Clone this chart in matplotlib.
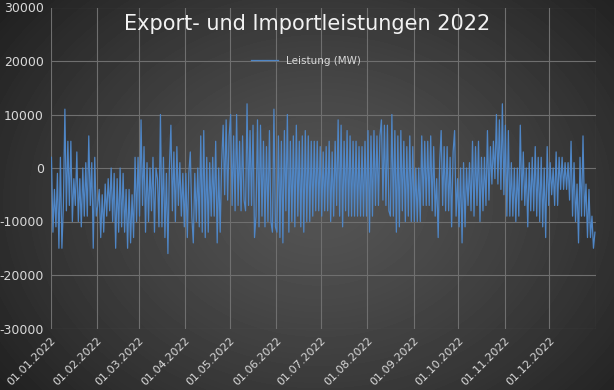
import numpy as np
import matplotlib
matplotlib.use("Agg")
import matplotlib.pyplot as plt

plt.rcParams["axes.unicode_minus"] = False

# daily power flow in 1000 MW, one value per day
jan = [2, -12, -4, -11, -1, -15, 2, -15, -7, 11, -8, 5, -7, 5, -10, -2, -7, 3, -10, -2,
       -11, 0, -9, 1, -9, 6, -7, 1, -15, 2, -9]
feb = [-7, -4, -13, -5, -12, -3, -9, -2, -8, 0, -10, -1, -15, -2, -12, 0, -11, -1, -12, -4,
       -15, -4, -14, -5, -13, 2, -10, 2]
mar = [-9, 9, -7, 4, -12, 1, -10, 0, -8, 2, -12, 0, -2, -11, 10, -11, 2, -13, -1, -16,
       0, 8, -8, 3, -10, 4, -7, 1, -9, -1, -11]
apr = [-1, -13, -1, 3, -9, -14, -1, -10, 0, -11, 6, -12, 7, -13, 2, -12, 1, -9, 2, -9,
       5, -14, 0, -12, 1, 8, -5, 9, -6, 6]
may = [10, -7, 6, -8, 10, -7, 5, -8, 6, -6, -8, 12, -7, 7, -7, 8, -13, -9, 9, -11,
       8, -9, 5, -11, 4, -10, 7, -10, -12, 11, -11]
jun = [-12, 6, -13, 5, -14, 7, -8, 10, -12, 5, -10, 6, -11, 8, -9, 5, -11, 6, -12, 7,
       -10, 6, -10, 5, -9, 5, -8, 5, -8, 4]
jul = [-9, 3, -8, 4, -8, 5, -10, 3, -9, 5, -7, 9, -9, 8, -11, 5, -8, 7, -9, 6,
       -9, 5, -9, 5, -9, 4, -9, 4, -9, 5, -9]
aug = [7, -12, 6, -9, 7, -7, 6, -7, 6, 9, -6, 8, -7, 8, -8, -9, 10, -9, 7, -12,
       6, -11, 7, -8, 5, -10, 4, -9, 6, -10, 4]
sep = [-10, 0, -10, 0, -10, 6, -7, 5, -7, 5, -7, 6, -8, 4, -9, -2, -13, 1, 7, -7,
       4, -8, 4, -8, 2, -11, 3, 7, -9, -2]
oct_ = [-11, 0, -14, 1, -11, 0, -7, 1, -8, 5, -9, 4, -7, 5, -10, 2, -8, 2, -7, 7,
        -6, 4, -3, 5, -2, 10, -3, 9, -4, 12, -5]
nov = [8, -9, 7, -9, 1, -9, 0, -10, 0, -9, 8, -6, 3, -7, 0, -11, 1, -8, 2, -8,
       4, -9, 2, -10, 2, -11, 0, -13, 4, -7]
dec = [1, -5, 0, -7, 3, -7, 2, -4, 2, -4, 1, -4, 1, -6, 5, -9, 1, -10, -3, -14,
       2, -9, 6, -9, -3, -13, -4, -13, -9, -15, -12]

month_ticks = ["2022-%02d-01" % m for m in range(1, 13)]
series_label = "Leistung (MW)"
title = "Export- und Importleistungen 2022"

vals = np.array(jan + feb + mar + apr + may + jun + jul + aug + sep + oct_ + nov + dec) * 1000
t = np.datetime64("2022-01-01T12:00") + np.arange(len(vals)) * np.timedelta64(1, "D")

fig = plt.figure(figsize=(6.14, 3.9), dpi=100)

# radial grey background
bg = fig.add_axes([0, 0, 1, 1], zorder=0)
yy, xx = np.mgrid[0:390, 0:614]
r = np.sqrt(((xx - 320) / 380) ** 2 + ((yy - 200) / 300) ** 2)
shade = np.clip(0.33 - 0.19 * r ** 1.3, 0.12, 1)
bg.imshow(shade, cmap="gray", vmin=0, vmax=1, aspect="auto", interpolation="bilinear")
bg.axis("off")

ax = fig.add_axes([50.7 / 614, 1 - 328.5 / 390, 545 / 614, 321 / 390], zorder=1)
ax.patch.set_alpha(0)
ax.plot(t, vals, color="#4f86c6", lw=0.9, label=series_label)

ax.set_xlim(np.datetime64("2022-01-01"), np.datetime64("2023-01-01"))
ax.set_ylim(-30000, 30000)
ax.set_yticks(np.arange(-30000, 30001, 10000))
ax.set_xticks([np.datetime64(d) for d in month_ticks] + [np.datetime64("2023-01-01")])
labels = [d[8:10] + "." + d[5:7] + "." + d[0:4] for d in month_ticks] + [""]
ax.set_xticklabels(labels, rotation=45, ha="right", rotation_mode="anchor")
ax.tick_params(length=0, colors="#d9d9d9", labelsize=8)
ax.tick_params(axis="y", labelsize=9, pad=5)
ax.tick_params(axis="x", pad=5)
ax.grid(True, color="#6f6f6f", lw=0.8)
ax.set_axisbelow(True)
for s in ax.spines.values():
    s.set_visible(False)

fig.text(0.5, 1 - 24 / 390, title, ha="center", va="center", color="#f2f2f2", fontsize=15)
ax.legend(loc="center", bbox_to_anchor=(306 / 614, 1 - 61 / 390), bbox_transform=fig.transFigure,
          frameon=False, fontsize=7.5, labelcolor="#d9d9d9", handlelength=2.6)

fig.savefig("out.png", dpi=100)
